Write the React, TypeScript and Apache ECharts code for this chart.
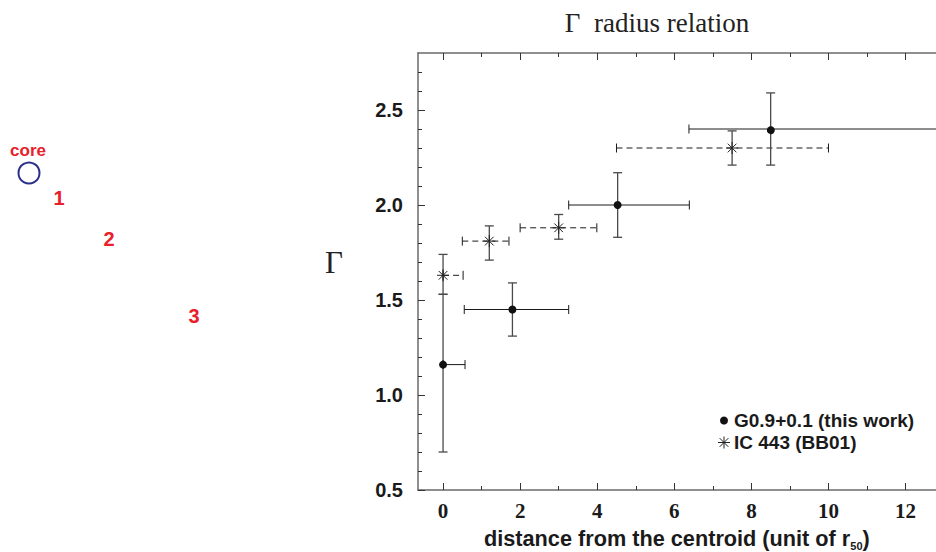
import React, { useEffect, useRef } from "react";
import * as echarts from "echarts";

// G0.9+0.1 (this work): x, y, xLow, xHigh, yLow, yHigh
const g09X = [0, 1.8, 4.53, 8.5];
const g09Y = [1.16, 1.45, 2.0, 2.4];
const g09XLow = [0, 0.55, 3.26, 6.38];
const g09XHigh = [0.57, 3.26, 6.39, 14];
const g09YLow = [0.7, 1.31, 1.83, 2.21];
const g09YHigh = [1.53, 1.59, 2.17, 2.59];

// IC 443 (BB01)
const icX = [0, 1.2, 3.0, 7.5];
const icY = [1.63, 1.81, 1.88, 2.3];
const icXLow = [0, 0.5, 2.0, 4.5];
const icXHigh = [0.52, 1.71, 3.99, 10.0];
const icYLow = [1.53, 1.71, 1.82, 2.21];
const icYHigh = [1.74, 1.89, 1.95, 2.39];

const xLabelValues = [0, 2, 4, 6, 8, 10, 12];
const xMinorValues = [1, 3, 5, 7, 9, 11];
const yLabelValues = [0.5, 1.0, 1.5, 2.0, 2.5];
const yMinorValues = [0.6, 0.7, 0.8, 0.9, 1.1, 1.2, 1.3, 1.4, 1.6, 1.7, 1.8, 1.9, 2.1, 2.2, 2.3, 2.4, 2.6, 2.7];

const AXIS_COLOR = "#6a6a6a";
const RED = "#e8202a";

function rows(x: number[], y: number[], xl: number[], xh: number[], yl: number[], yh: number[]) {
  return x.map((v, i) => [v, y[i], xl[i], xh[i], yl[i], yh[i]]);
}

function asteriskLines(cx: number, cy: number, r: number, withH: boolean) {
  const d = r * 0.72;
  const segs = [
    [cx, cy - r, cx, cy + r],
    [cx - d, cy - d, cx + d, cy + d],
    [cx - d, cy + d, cx + d, cy - d],
  ];
  if (withH) segs.push([cx - r, cy, cx + r, cy]);
  return segs.map((s) => ({
    type: "line",
    shape: { x1: s[0], y1: s[1], x2: s[2], y2: s[3] },
    style: { stroke: "#222", lineWidth: 1 },
  }));
}

function makeRender(dashed: boolean, star: boolean) {
  return (params: any, api: any) => {
    const x = api.value(0), y = api.value(1);
    const p = api.coord([x, y]);
    const pxl = api.coord([api.value(2), y]);
    const pxh = api.coord([api.value(3), y]);
    const pyl = api.coord([x, api.value(4)]);
    const pyh = api.coord([x, api.value(5)]);
    const cap = 4.5;
    const hStyle: any = { stroke: "#1a1a1a", lineWidth: 1 };
    if (dashed) hStyle.lineDash = [6, 4];
    const vStyle = { stroke: "#4a4a4a", lineWidth: 1.3 };
    const children: any[] = [
      { type: "line", shape: { x1: pxl[0], y1: p[1], x2: pxh[0], y2: p[1] }, style: hStyle },
      { type: "line", shape: { x1: pxl[0], y1: p[1] - cap, x2: pxl[0], y2: p[1] + cap }, style: { stroke: "#1a1a1a", lineWidth: 1 } },
      { type: "line", shape: { x1: pxh[0], y1: p[1] - cap, x2: pxh[0], y2: p[1] + cap }, style: { stroke: "#1a1a1a", lineWidth: 1 } },
      { type: "line", shape: { x1: p[0], y1: pyl[1], x2: p[0], y2: pyh[1] }, style: vStyle },
      { type: "line", shape: { x1: p[0] - cap, y1: pyl[1], x2: p[0] + cap, y2: pyl[1] }, style: vStyle },
      { type: "line", shape: { x1: p[0] - cap, y1: pyh[1], x2: p[0] + cap, y2: pyh[1] }, style: vStyle },
    ];
    if (star) {
      children.push(...asteriskLines(p[0], p[1], 6, true));
    } else {
      children.push({ type: "circle", shape: { cx: p[0], cy: p[1], r: 4 }, style: { fill: "#111" } });
    }
    return { type: "group", children };
  };
}

const sansBold = { fontFamily: "Liberation Sans, Arial, sans-serif", fontWeight: "bold" as const };

export default function App() {
  const ref = useRef<HTMLDivElement>(null);
  useEffect(() => {
    if (!ref.current) return;
    const chart = echarts.init(ref.current, undefined, { renderer: "svg" });
    const xMin = -0.65, xMax = 12.79;
    const baseX = (position: string, values: number[], len: number, line: boolean, labels: boolean) => ({
      type: "value",
      position,
      min: xMin,
      max: xMax,
      axisLine: { show: line, onZero: false, lineStyle: { color: AXIS_COLOR, width: 1.5 } },
      axisTick: { show: true, inside: true, length: len, customValues: values, lineStyle: { color: "#333", width: 1 } },
      axisLabel: labels
        ? { show: true, customValues: values, color: "#1a1a1a", fontSize: 21, fontWeight: "bold", fontFamily: "Liberation Serif, Times New Roman, serif", margin: 10 }
        : { show: false },
      splitLine: { show: false },
    });
    const baseY = (values: number[], len: number, line: boolean, labels: boolean) => ({
      type: "value",
      position: "left",
      min: 0.5,
      max: 2.8,
      axisLine: { show: line, onZero: false, lineStyle: { color: AXIS_COLOR, width: 1.5 } },
      axisTick: { show: true, inside: true, length: len, customValues: values, lineStyle: { color: "#333", width: 1 } },
      axisLabel: labels
        ? { show: true, customValues: values, color: "#1a1a1a", fontSize: 20, ...sansBold, margin: 15, formatter: (v: number) => v.toFixed(1) }
        : { show: false },
      splitLine: { show: false },
    });

    chart.setOption({
      animation: false,
      backgroundColor: "#ffffff",
      grid: { left: 418, top: 53, right: 0, bottom: 62, containLabel: false },
      xAxis: [
        baseX("bottom", xLabelValues, 7, true, true),
        baseX("bottom", xMinorValues, 4, false, false),
        baseX("top", xLabelValues, 7, true, false),
        baseX("top", xMinorValues, 4, false, false),
      ],
      yAxis: [baseY(yLabelValues, 7, true, true), baseY(yMinorValues, 4, false, false)],
      series: [
        {
          type: "custom",
          name: "G0.9+0.1 (this work)",
          xAxisIndex: 0,
          yAxisIndex: 0,
          renderItem: makeRender(false, false),
          data: rows(g09X, g09Y, g09XLow, g09XHigh, g09YLow, g09YHigh),
          z: 3,
        },
        {
          type: "custom",
          name: "IC 443 (BB01)",
          xAxisIndex: 0,
          yAxisIndex: 0,
          renderItem: makeRender(true, true),
          data: rows(icX, icY, icXLow, icXHigh, icYLow, icYHigh),
          z: 2,
        },
      ],
      graphic: [
        {
          type: "text",
          x: 657,
          y: 23,
          style: { text: "Γ  radius relation", fontSize: 27, fontFamily: "Liberation Serif, Times New Roman, serif", fill: "#222", align: "center", verticalAlign: "middle" },
        },
        {
          type: "text",
          x: 334,
          y: 262,
          style: { text: "Γ", fontSize: 31, fontFamily: "Liberation Serif, Times New Roman, serif", fill: "#222", align: "center", verticalAlign: "middle" },
        },
        {
          type: "text",
          x: 484,
          y: 538,
          style: {
            text: "distance from the centroid (unit of r{sub|50})",
            fontSize: 21.7,
            ...sansBold,
            fill: "#1a1a1a",
            align: "left",
            verticalAlign: "middle",
            lineHeight: 26,
            rich: {
              sub: { fontSize: 11, ...sansBold, fill: "#1a1a1a", verticalAlign: "bottom", lineHeight: 26, padding: [11, 0, 0, 0] },
            },
          } as any,
        },
        { type: "circle", shape: { cx: 724, cy: 420.5, r: 4 }, style: { fill: "#111" } },
        {
          type: "text",
          x: 734,
          y: 420.5,
          style: { text: "G0.9+0.1 (this work)", fontSize: 19, ...sansBold, fill: "#1a1a1a", verticalAlign: "middle" },
        },
        { type: "group", children: asteriskLines(724, 442.5, 6, true) as any },
        {
          type: "text",
          x: 734,
          y: 442.5,
          style: { text: "IC 443 (BB01)", fontSize: 19, ...sansBold, fill: "#1a1a1a", verticalAlign: "middle" },
        },
        { type: "text", x: 28, y: 150, style: { text: "core", fontSize: 17, ...sansBold, fill: RED, align: "center", verticalAlign: "middle" } },
        { type: "circle", shape: { cx: 29, cy: 173, r: 10.5 }, style: { fill: "none", stroke: "#2a2f8c", lineWidth: 2 } },
        { type: "text", x: 59, y: 198, style: { text: "1", fontSize: 20, ...sansBold, fill: RED, align: "center", verticalAlign: "middle" } },
        { type: "text", x: 109, y: 239, style: { text: "2", fontSize: 20, ...sansBold, fill: RED, align: "center", verticalAlign: "middle" } },
        { type: "text", x: 194, y: 316, style: { text: "3", fontSize: 20, ...sansBold, fill: RED, align: "center", verticalAlign: "middle" } },
      ],
    });
    return () => chart.dispose();
  }, []);
  return <div ref={ref} style={{ position: "fixed", left: 0, top: 0, width: 936, height: 552 }} />;
}
